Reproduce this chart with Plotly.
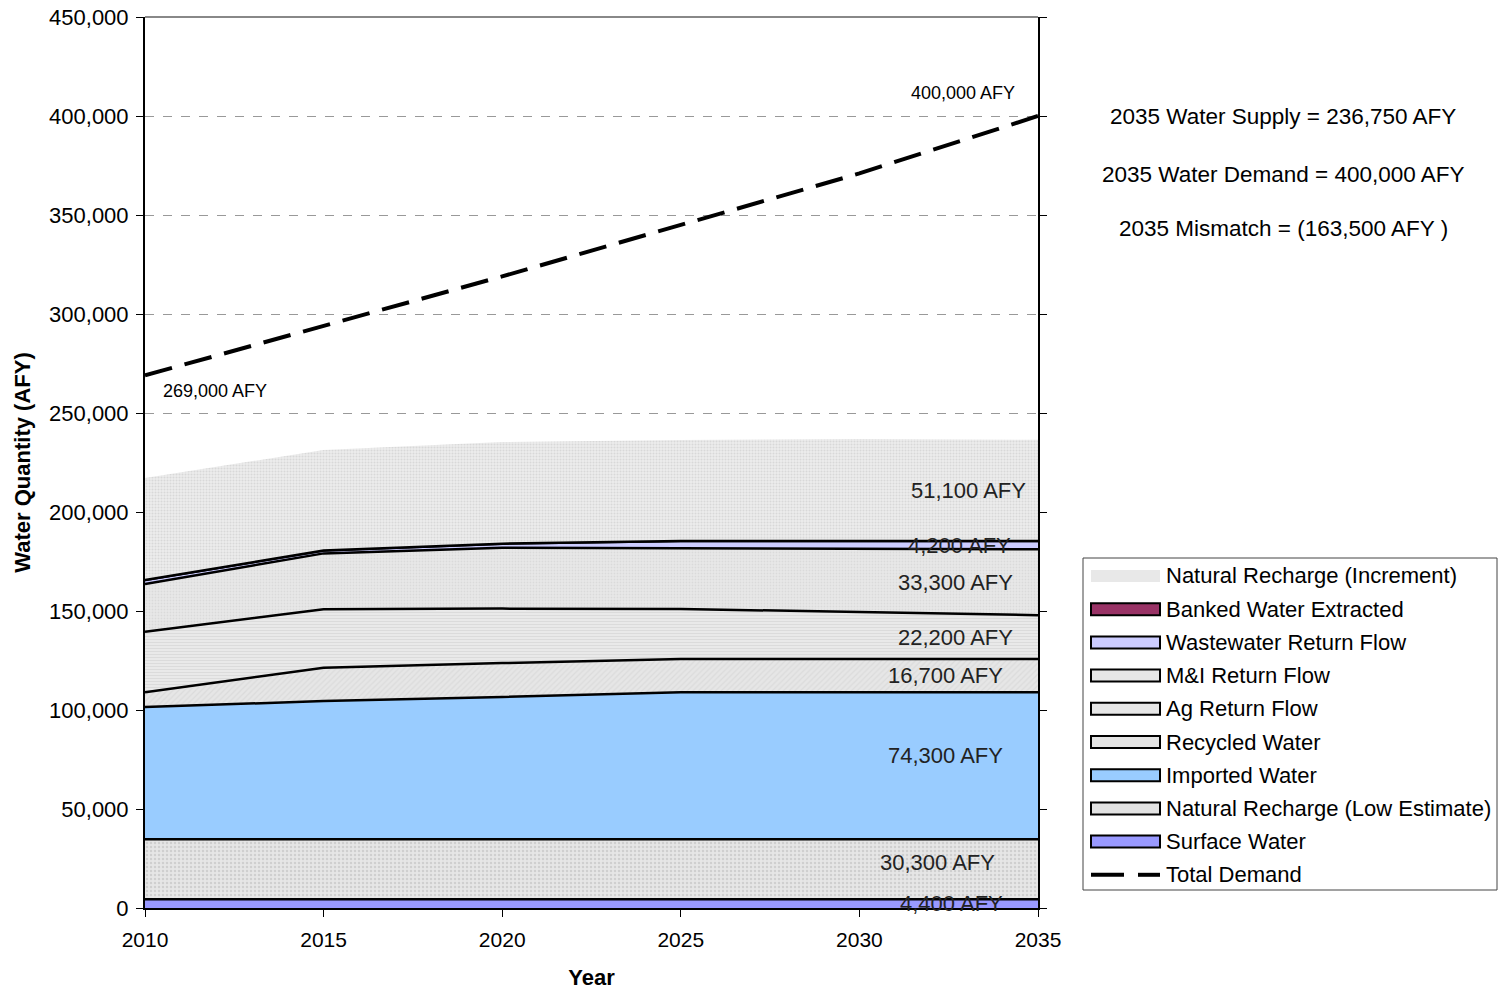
import plotly.graph_objects as go

years = [2010, 2015, 2020, 2025, 2030, 2035]

surface_water = [4400, 4400, 4400, 4400, 4400, 4400]
natural_recharge_low = [30300, 30300, 30300, 30300, 30300, 30300]
imported_water = [66800, 69800, 71900, 74300, 74300, 74300]
recycled_water = [7500, 16800, 17100, 16700, 16700, 16700]
ag_return_flow = [30500, 29600, 27500, 25300, 23800, 22200]
mi_return_flow = [24100, 28200, 30800, 30800, 31900, 33300]
wastewater_return_flow = [2100, 1400, 2000, 3600, 4000, 4200]
banked_water_extracted = [0, 0, 0, 0, 0, 0]
natural_recharge_increment = [51500, 50800, 51300, 51000, 51500, 51100]
total_demand = [269000, 294000, 319000, 345000, 371000, 400000]

layer_names = ["Surface Water", "Natural Recharge (Low Estimate)", "Imported Water",
               "Recycled Water", "Ag Return Flow", "M&I Return Flow",
               "Wastewater Return Flow", "Banked Water Extracted",
               "Natural Recharge (Increment)"]
layer_values = [surface_water, natural_recharge_low, imported_water, recycled_water,
                ag_return_flow, mi_return_flow, wastewater_return_flow,
                banked_water_extracted, natural_recharge_increment]

label_texts = ["4,400 AFY", "30,300 AFY", "74,300 AFY", "16,700 AFY", "22,200 AFY",
               "33,300 AFY", "4,200 AFY", None, "51,100 AFY"]

FONT = "Liberation Sans, Arial, sans-serif"

styles = [
    dict(fillcolor="#9999FF", pattern=None, line=2.5, swatch="#9999FF"),
    dict(fillcolor="#e4e4e4", pattern=dict(shape=".", fgcolor="#b8b8b8", bgcolor="#e6e6e6", size=4, solidity=0.3), line=2.5, swatch="#e2e2e2"),
    dict(fillcolor="#99CCFF", pattern=None, line=2.5, swatch="#99CCFF"),
    dict(fillcolor="#e4e4e4", pattern=dict(shape="/", fgcolor="#cfcfcf", bgcolor="#e6e6e6", size=4, solidity=0.3), line=2.5, swatch="#e4e4e4"),
    dict(fillcolor="#e4e4e4", pattern=dict(shape="-", fgcolor="#cccccc", bgcolor="#ebebeb", size=3, solidity=0.4), line=2.5, swatch="#e6e6e6"),
    dict(fillcolor="#e4e4e4", pattern=dict(shape=".", fgcolor="#cccccc", bgcolor="#e8e8e8", size=3, solidity=0.3), line=2.5, swatch="#e6e6e6"),
    dict(fillcolor="#CCCCFF", pattern=None, line=2.5, swatch="#CCCCFF"),
    dict(fillcolor="#993366", pattern=None, line=2.5, swatch="#993366"),
    dict(fillcolor="#e8e8e8", pattern=dict(shape=".", fgcolor="#c4c4c4", bgcolor="#ececec", size=3, solidity=0.35), line=0, swatch="#e8e8e8"),
]

fig = go.Figure()
for name, vals, st in zip(layer_names, layer_values, styles):
    kw = dict(x=years, y=vals, name=name, mode="lines", stackgroup="supply",
              fillcolor=st["fillcolor"], showlegend=False,
              line=dict(color="black", width=st["line"]))
    if st["line"] == 0:
        kw["line"] = dict(color="rgba(0,0,0,0)", width=0)
    if st["pattern"]:
        kw["fillpattern"] = st["pattern"]
    fig.add_trace(go.Scatter(**kw))

fig.add_trace(go.Scatter(x=years, y=total_demand, name="Total Demand", mode="lines",
                         line=dict(color="black", width=4, dash="28px,13px"),
                         showlegend=False))

# value labels at the right end of each layer
cum = 0
label_positions = []
for vals in layer_values:
    lo = cum
    cum += vals[-1]
    label_positions.append((lo + cum) / 2)

xshifts = [-33, -41, -33, -33, -23, -23, -25, None, -10]
yoffsets = [300, 3200, 5400, 0, 0, 0, 0, None, 0]
for txt, yp, xs, yo in zip(label_texts, label_positions, xshifts, yoffsets):
    if txt is None:
        continue
    fig.add_annotation(x=2035, y=yp + yo, text=txt, showarrow=False, xanchor="right",
                       xshift=xs, font=dict(family=FONT, size=22, color="#222"))

fig.add_annotation(x=2035, y=total_demand[-1], text="400,000 AFY", showarrow=False,
                   xanchor="right", yanchor="bottom", xshift=-21, yshift=11,
                   font=dict(family=FONT, size=18, color="black"))
fig.add_annotation(x=2010, y=total_demand[0], text="269,000 AFY", showarrow=False,
                   xanchor="left", yanchor="top", xshift=16, yshift=-4,
                   font=dict(family=FONT, size=18, color="black"))

# pixel -> paper helpers (plot area: x 145..1038, y 17..908)
def px(x):
    return (x - 145) / 893.0

def py(y):
    return (908 - y) / 891.0

for txt, yy in [("2035 Water Supply = 236,750 AFY", 116),
                ("2035 Water Demand = 400,000 AFY", 175),
                ("2035 Mismatch = (163,500 AFY )", 228)]:
    fig.add_annotation(xref="paper", yref="paper", x=px(1283), y=py(yy), text=txt,
                       showarrow=False, xanchor="center", yanchor="middle",
                       font=dict(family=FONT, size=22.5, color="black"))

# gray top border
fig.add_shape(type="line", xref="paper", yref="paper", x0=0, x1=1, y0=1, y1=1,
              line=dict(color="#888888", width=2))

# legend drawn as box + swatches
fig.add_shape(type="rect", xref="paper", yref="paper", x0=px(1083), x1=px(1497),
              y0=py(890), y1=py(558), line=dict(color="#444444", width=1),
              fillcolor="white", layer="above")
legend_order = list(range(8, -1, -1))
row_y = [576 + 33.2 * i for i in range(10)]
for i, idx in enumerate(legend_order):
    yy = row_y[i]
    st = styles[idx]
    if st["line"] == 0:
        line = dict(width=0)
    else:
        line = dict(color="black", width=2)
    fig.add_shape(type="rect", xref="paper", yref="paper", x0=px(1091), x1=px(1160),
                  y0=py(yy + 6), y1=py(yy - 6), fillcolor=st["swatch"], line=line,
                  layer="above")
    fig.add_annotation(xref="paper", yref="paper", x=px(1164), y=py(yy),
                       text=layer_names[idx], showarrow=False, xanchor="left",
                       yanchor="middle", font=dict(family=FONT, size=22, color="black"))
# total demand legend entry
yy = row_y[9]
for a, b in [(1091, 1124), (1138, 1160)]:
    fig.add_shape(type="line", xref="paper", yref="paper", x0=px(a), x1=px(b),
                  y0=py(yy), y1=py(yy), line=dict(color="black", width=4), layer="above")
fig.add_annotation(xref="paper", yref="paper", x=px(1164), y=py(yy), text="Total Demand",
                   showarrow=False, xanchor="left", yanchor="middle",
                   font=dict(family=FONT, size=22, color="black"))

fig.update_layout(
    width=1499, height=990,
    margin=dict(l=145, r=461, t=17, b=82, autoexpand=False),
    paper_bgcolor="white", plot_bgcolor="white",
    font=dict(family=FONT, size=22, color="black"),
    showlegend=False,
    xaxis=dict(range=[2010, 2035], tickvals=years, ticktext=[str(y) for y in years],
               showgrid=False, zeroline=False, showline=True, linecolor="black",
               linewidth=2, ticks="outside", ticklen=7, tickcolor="black",
               tickfont=dict(size=21), automargin=False, ticklabelstandoff=5,
               title=dict(text="<b>Year</b>", font=dict(size=22), standoff=20)),
    yaxis=dict(range=[0, 450000], tick0=0, dtick=50000, tickformat=",",
               showgrid=True, gridcolor="#999999", griddash="dash", gridwidth=1,
               zeroline=False, showline=True, linecolor="black", linewidth=2,
               mirror="ticks", ticks="outside", ticklen=7, tickcolor="black",
               tickfont=dict(size=22), automargin=False, ticklabelstandoff=3,
               title=dict(text="<b>Water Quantity (AFY)</b>", font=dict(size=22), standoff=12)),
)

fig.write_html("out.html", config={"displayModeBar": False},
               post_script="document.body.style.margin='0';")
